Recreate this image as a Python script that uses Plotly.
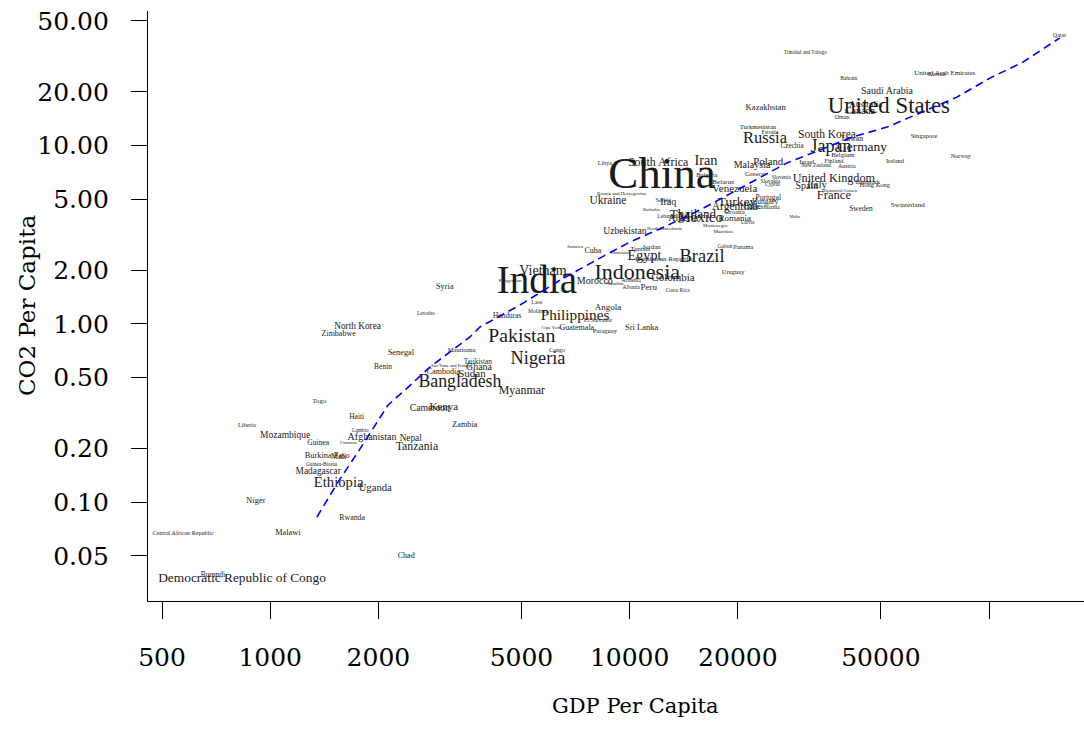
import plotly.graph_objects as go

# Country-level GDP per capita (USD, PPP) vs CO2 emissions per capita (t)
countries = [
    "Qatar", "Trinidad and Tobago", "United Arab Emirates", "Kuwait", "Bahrain",
    "Saudi Arabia", "United States", "Australia", "Canada", "Kazakhstan", "Oman",
    "Turkmenistan", "Estonia", "South Korea", "Taiwan", "Russia", "Singapore",
    "Czechia", "Germany", "Japan", "Belgium", "Norway", "Ireland", "Israel",
    "Finland", "Poland", "New Zealand", "Austria", "Malaysia", "Greece",
    "Slovenia", "Slovakia", "Cyprus", "United Kingdom", "Italy", "Spain",
    "Equatorial Guinea", "France", "Hong Kong", "Denmark", "Switzerland", "Sweden",
    "Libya", "South Africa", "Iran", "Bulgaria", "Belarus", "Venezuela",
    "Turkey", "Portugal", "Hungary", "Lithuania", "Argentina", "Chile", "Croatia",
    "Romania", "Malta", "Latvia", "Montenegro", "Mauritius",
    "Bosnia and Herzegovina", "Ukraine", "Serbia", "Iraq", "Barbados", "Lebanon",
    "Thailand", "Algeria", "Mexico", "Uzbekistan", "North Macedonia", "Jamaica",
    "Cuba", "Dominica", "Jordan", "Tunisia", "Egypt", "Dominican Republic",
    "Gabon", "Panama", "Brazil", "Uruguay", "Indonesia", "Colombia", "Costa Rica",
    "Peru", "Albania", "Armenia", "Namibia", "Morocco", "Vietnam", "India",
    "Kyrgyzstan", "Laos", "Moldova", "Honduras", "Philippines", "El Salvador",
    "Angola", "Paraguay", "Guatemala", "Cape Verde", "Sri Lanka", "Pakistan",
    "Congo", "Nigeria", "Syria", "Lesotho", "North Korea", "Zimbabwe", "Senegal",
    "Benin", "Mauritania", "Sao Tome and Principe", "Tajikistan", "Ghana",
    "Cambodia", "Sudan", "Bangladesh", "Myanmar", "Togo", "Cameroon", "Kenya",
    "Haiti", "Zambia", "Liberia", "Mozambique", "Gambia", "Afghanistan",
    "Comoros", "Guinea", "Nepal", "Tanzania", "Burkina Faso", "Mali",
    "Guinea-Bissau", "Madagascar", "Ethiopia", "Uganda", "Niger", "Rwanda",
    "Central African Republic", "Malawi", "Chad",
    "Democratic Republic of Congo", "Burundi", "China",
]

gdp_per_capita = [
    157000, 30800, 75300, 71600, 40700,
    52000, 52600, 45400, 43700, 23900, 39000,
    22750, 24550, 35400, 41500, 23800, 65900,
    28300, 44300, 36300, 39200, 83400, 54700, 31100,
    37000, 24300, 33000, 40200, 21900, 22300,
    26400, 24600, 25000, 37000, 33200, 31100,
    38500, 37000, 48100, 46000, 59400, 44000,
    8530, 12000, 16300, 16400, 18200, 19600,
    19900, 24300, 23800, 24300, 19600, 21900, 19600,
    19600, 28800, 21300, 17300, 18200,
    9500, 8700, 12400, 12800, 11500, 12700,
    15000, 14100, 15700, 9700, 12500, 7050,
    7900, 9400, 11500, 10700, 11000, 12500,
    18400, 20700, 15900, 19400, 10500, 13200, 13600,
    11300, 10100, 10100, 9100, 8000, 5740, 5520,
    4650, 5520, 5560, 4560, 7050, 8170,
    8700, 8530, 7130, 6080, 10800, 5010,
    6280, 5560, 3060, 2710, 1750, 1550, 2310,
    2060, 3410, 3200, 3780, 3810,
    3030, 3640, 3370, 5010, 1370, 2780, 3040,
    1740, 3480, 861, 1100, 1780, 1920,
    1650, 1360, 2460, 2560, 1440, 1550,
    1390, 1360, 1550, 1960, 912, 1690,
    572, 1120, 2390,
    835, 693, 12300,
]

co2_per_capita = [
    41.2, 33.1, 25.5, 24.9, 23.6,
    20.0, 16.5, 16.9, 15.6, 16.3, 14.3,
    12.6, 11.9, 11.5, 10.9, 10.9, 11.2,
    9.95, 9.8, 9.7, 8.85, 8.75, 8.2, 8.1,
    8.1, 8.1, 7.7, 7.6, 7.7, 6.9,
    6.6, 6.3, 6.0, 6.5, 6.0, 5.9,
    5.6, 5.2, 6.0, 6.2, 4.65, 4.4,
    7.9, 8.0, 8.1, 6.8, 6.2, 5.7,
    4.8, 5.1, 4.8, 4.5, 4.5, 4.5, 4.2,
    3.9, 4.0, 3.7, 3.54, 3.3,
    5.4, 4.9, 4.95, 4.8, 4.35, 4.0,
    4.1, 3.9, 3.9, 3.3, 3.4, 2.7,
    2.56, 2.5, 2.7, 2.63, 2.4, 2.3,
    2.7, 2.7, 2.37, 1.95, 1.93, 1.81, 1.53,
    1.59, 1.59, 1.74, 1.67, 1.74, 1.98, 1.70,
    1.74, 1.31, 1.17, 1.11, 1.11, 1.05,
    1.23, 0.91, 0.95, 0.95, 0.95, 0.845,
    0.71, 0.635, 1.61, 1.14, 0.97, 0.88, 0.69,
    0.57, 0.71, 0.58, 0.61, 0.57,
    0.54, 0.52, 0.47, 0.42, 0.37, 0.333, 0.342,
    0.30, 0.271, 0.271, 0.235, 0.251, 0.232,
    0.215, 0.215, 0.226, 0.204, 0.182, 0.179,
    0.162, 0.148, 0.128, 0.119, 0.102, 0.0817,
    0.0664, 0.0672, 0.050,
    0.0371, 0.0391, 6.7,
]

# label size (px) scales with population
label_size = [
    6, 5.2, 7, 6, 5.4,
    10, 22.8, 9, 10, 8.6, 6.1,
    6.6, 5.5, 11.5, 7.7, 16.5, 6.6,
    7.2, 13.4, 18, 6.8, 6.2, 6.4, 6.8,
    6.2, 10.8, 5.5, 6, 10, 7,
    5.4, 5.7, 5.1, 12.2, 11, 10,
    4.6, 12.6, 6.5, 6.5, 7.1, 7.4,
    6, 11.9, 14.3, 6.2, 7.1, 11,
    13.5, 7.5, 7.5, 6, 11.5, 8, 6.8,
    9, 4.6, 5.2, 5, 5,
    5, 11.5, 6, 10, 4.5, 5.5,
    13, 10, 15, 9.6, 5, 5,
    8, 4.5, 6.9, 6.5, 14.2, 7,
    5.6, 6.3, 18.4, 6.5, 22, 11, 5.5,
    9, 5.5, 5.5, 5, 10, 14, 39,
    5, 5.5, 5.5, 7.3, 15.3, 6,
    9, 6.5, 8, 4.5, 8.5, 19.8,
    6, 18.3, 8.4, 5.5, 9.3, 8, 8.4,
    7.5, 6.4, 4.5, 7.2, 10,
    8, 11, 17.8, 11.9, 6.8, 9.6, 11,
    7.5, 8.2, 6.1, 9.5, 5.3, 10,
    4.6, 7.6, 9.3, 11.8, 8.4, 8,
    5.3, 9.4, 14.7, 10.7, 8.6, 7.8,
    6.1, 8.3, 8,
    13.4, 7.4, 45,
]

# smoothed trend of CO2 against GDP
trend_gdp = [1349, 1545, 1754, 2128, 2372, 2782, 3595, 3835, 4955, 6400, 8265,
             10020, 12130, 15700, 19900, 27400, 33850, 41800, 52000, 64200,
             81300, 100500, 124200, 157400]
trend_co2 = [0.0826, 0.130, 0.191, 0.351, 0.426, 0.573, 0.845, 0.962, 1.277, 1.76,
             2.34, 2.88, 3.41, 4.36, 5.64, 8.0, 9.45, 11.2, 12.7, 15.2, 18.7,
             23.9, 29.4, 40.2]

x_ticks = [500, 1000, 2000, 5000, 10000, 20000, 50000, 100000]
x_tick_text = ["500", "1000", "2000", "5000", "10000", "20000", "50000", ""]
y_ticks = [0.05, 0.1, 0.2, 0.5, 1, 2, 5, 10, 20, 50]
y_tick_text = ["0.05", "0.10", "0.20", "0.50", "1.00", "2.00", "5.00",
               "10.00", "20.00", "50.00"]

AXIS_FONT = "DejaVu Serif"
LABEL_FONT = "Liberation Serif"

fig = go.Figure()

fig.add_trace(go.Scatter(
    x=gdp_per_capita, y=co2_per_capita, text=countries,
    mode="text", textposition="middle center",
    textfont=dict(family=LABEL_FONT, size=label_size, color="#1a1a1a"),
    hoverinfo="text", showlegend=False,
))

fig.add_trace(go.Scatter(
    x=trend_gdp, y=trend_co2, mode="lines",
    line=dict(color="#0000ff", width=1.6, dash="8px,5px"),
    hoverinfo="skip", showlegend=False,
))

axis_common = dict(
    showgrid=False, zeroline=False, showline=True, linecolor="black",
    linewidth=1.2, ticks="outside", tickcolor="black", tickwidth=1.2,
    tickfont=dict(family=AXIS_FONT, size=25, color="black"),
)

fig.update_xaxes(
    type="log", range=[2.660, 5.264], tickvals=x_ticks, ticktext=x_tick_text,
    ticklen=17, ticklabelstandoff=17, **axis_common,
)
fig.update_yaxes(
    type="log", range=[-1.554, 1.755], tickvals=y_ticks, ticktext=y_tick_text,
    ticklen=16, ticklabelstandoff=17, **axis_common,
)

fig.update_layout(
    width=1084, height=747,
    margin=dict(l=148, r=0, t=11, b=146),
    plot_bgcolor="white", paper_bgcolor="white",
    annotations=[
        dict(text="GDP Per Capita", xref="paper", yref="paper",
             x=(635 - 148) / 936, y=(601 - 706) / 590,
             xanchor="center", yanchor="middle", showarrow=False,
             font=dict(family=AXIS_FONT, size=21, color="black")),
        dict(text="CO2 Per Capita", xref="paper", yref="paper",
             x=(27 - 148) / 936, y=(601 - 305) / 590, textangle=-90,
             xanchor="center", yanchor="middle", showarrow=False,
             font=dict(family=AXIS_FONT, size=23, color="black")),
    ],
)

fig.write_html("out.html")
